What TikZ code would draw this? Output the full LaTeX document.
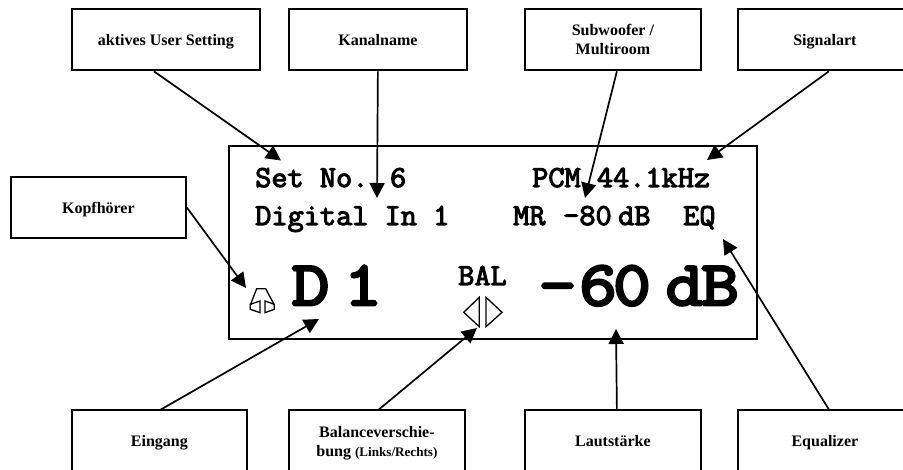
\documentclass[tikz,border=0pt]{standalone}
\usepackage{fontspec}
\setmainfont{Liberation Serif}
\newfontfamily\lcdfont[FakeBold=3.5,FakeStretch=1.03]{Latin Modern Mono}
\newfontfamily\lcdbigfont[FakeBold=4.5,FakeStretch=1.16]{Latin Modern Mono}
\usetikzlibrary{arrows.meta}
\tikzset{
  callout/.style={draw=black,line width=1.8pt,font=\bfseries\fontsize{16}{19}\selectfont,align=center,inner sep=0pt,anchor=north west},
  oneline/.style={callout,text height=12pt,text depth=0pt},
  pointer/.style={draw=black,line width=1.7pt,-{Triangle[length=15pt,width=15pt]}},
  lcdsmall/.style={font=\lcdfont\fontsize{30.5}{32}\selectfont,anchor=base west,inner sep=0pt},
  lcdbig/.style={font=\lcdbigfont\fontsize{63}{66}\selectfont,anchor=base,inner sep=0pt},
  glyphline/.style={draw=black,line width=1.3pt,line join=miter}
}
\begin{document}
\begin{tikzpicture}[x=1pt,y=-1pt]
\useasboundingbox (0,0) rectangle (903,470);
\clip (0,0) rectangle (903,470);
\fill[white] (0,0) rectangle (903,470);
% display
\node[draw=black,line width=1.6pt,minimum width=528pt,minimum height=193pt,inner sep=0pt,anchor=north west] (display) at (228,145) {};
% callouts
\node[oneline,minimum width=188pt,minimum height=61pt] (user) at (71,8.5) {aktives User Setting};
\node[oneline,minimum width=178pt,minimum height=61pt] (kanal) at (288,8.5) {Kanalname};
\node[callout,minimum width=176pt,minimum height=61pt] (sub) at (524,8.5) {Subwoofer /\\Multiroom};
\node[oneline,minimum width=174pt,minimum height=61pt] (signal) at (737,8.5) {Signalart};
\node[oneline,minimum width=175pt,minimum height=61pt] (kopf) at (10,176) {Kopfhörer};
\node[oneline,minimum width=175pt,minimum height=61pt] (eingang) at (71,409.5) {Eingang};
\node[callout,minimum width=176pt,minimum height=61pt] (bal) at (288,409.5) {\rule{0pt}{16pt}Balanceverschie-\\bung {\fontsize{13.1}{19}\selectfont(Links/Rechts)}};
\node[oneline,minimum width=176pt,minimum height=61pt] (laut) at (524,409.5) {Lautstärke};
\node[oneline,minimum width=174pt,minimum height=61pt] (eq) at (737,409.5) {Equalizer};
% display text
\node[lcdsmall] (t1) at (255,187) {Set No. 6};
\node[lcdsmall] (t2) at (255,225) {Digital In 1};
\node[lcdsmall] (t3) at (532,187) {PCM 44.1kHz};
\node[lcdsmall] (t4) at (513,225) {MR};
\node[lcdsmall] (t5) at (563,225) {-80};
\node[lcdsmall] (t6) at (618,225) {dB};
\node[lcdsmall] (t7) at (683,225) {EQ};
\node[lcdbig] (b1) at (310.5,305) {D};
\node[lcdbig] (b2) at (363,305) {1};
\node[lcdsmall] (b3) at (458,285) {BAL};
\node[lcdbig] (b4) at (557.5,305) {-};
\node[lcdbig] (b5) at (598,305) {6};
\node[lcdbig] (b6) at (632,305) {0};
\node[lcdbig] (b7) at (684.5,305) {d};
\node[lcdbig] (b8) at (720,305) {B};
% headphones
\begin{scope}[shift={(220,250)},x=0.3333pt,y=-0.3333pt]
\draw[glyphline] (91,165) -- (110,116) -- (137,116) -- (163,165);
\draw[glyphline] (91,163) -- (120,153) -- (120,188) -- (91,178) -- cycle;
\draw[glyphline] (135,153) -- (163,163) -- (163,178) -- (135,188) -- cycle;
\end{scope}
% balance triangles
\draw[glyphline] (479.3,297.3) -- (463.7,312.3) -- (479.3,326.7) -- cycle;
\draw[glyphline] (486,297.3) -- (502,312.3) -- (486,326.7) -- cycle;
% tips
\coordinate (tuser) at (281,160.5);
\coordinate (tkanal) at (377,198);
\coordinate (tsub) at (585,198);
\coordinate (tsignal) at (707,160);
\coordinate (tkopf) at (246,288);
\coordinate (teingang) at (319,319);
\coordinate (tbal) at (477,328);
\coordinate (tlaut) at (616,329);
\coordinate (teq) at (723,239);
\draw[pointer] ([xshift=-12pt]user.south) -- (tuser);
\draw[pointer] (kanal.south) -- (tkanal);
\draw[pointer] ([xshift=4pt]sub.south) -- (tsub);
\draw[pointer] ([xshift=4pt]signal.south) -- (tsignal);
\draw[pointer] (kopf.east) -- (tkopf);
\draw[pointer] ([xshift=1.5pt]eingang.north) -- (teingang);
\draw[pointer] ([xshift=2pt]bal.north) -- (tbal);
\draw[pointer] ([xshift=4pt]laut.north) -- (tlaut);
\draw[pointer] ([xshift=4pt]eq.north) -- (teq);
\end{tikzpicture}
\end{document}
